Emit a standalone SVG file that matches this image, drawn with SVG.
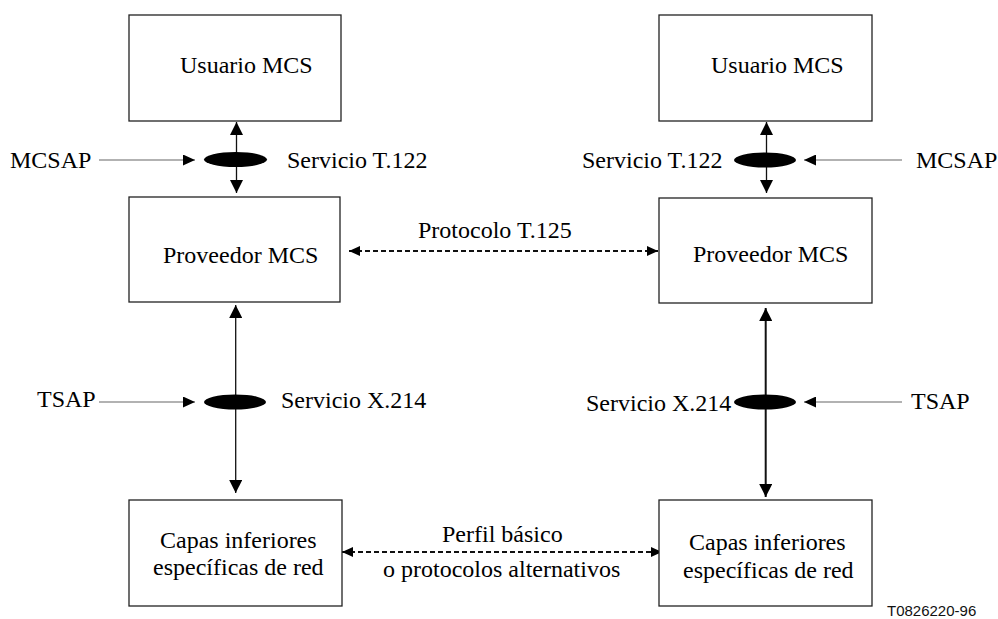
<svg xmlns="http://www.w3.org/2000/svg" width="998" height="619" viewBox="0 0 998 619">
<style>
.box{fill:#fff;stroke:#222;stroke-width:1.3}
.t{font-size:24px;fill:#000}
.id{font-size:15px;fill:#111}
.v{stroke:#111;stroke-width:1.3;fill:none;marker-start:url(#ah);marker-end:url(#ah)}
.sap{stroke:#666;stroke-width:1.2;fill:none;marker-end:url(#sh)}
.dash{stroke:#111;stroke-width:2;stroke-dasharray:5 3;fill:none;marker-start:url(#dh);marker-end:url(#dh)}
.ell{fill:#000}
</style>
<defs>
<marker id="ah" markerUnits="userSpaceOnUse" markerWidth="13" markerHeight="13" refX="13" refY="6.5" orient="auto-start-reverse" viewBox="0 0 13 13">
<path d="M0,0 L13,6.5 L0,13 z" fill="#000"/>
</marker>
<marker id="sh" markerUnits="userSpaceOnUse" markerWidth="12" markerHeight="11" refX="12" refY="5.5" orient="auto" viewBox="0 0 12 11">
<path d="M0,0 L12,5.5 L0,11 z" fill="#000"/>
</marker>
<marker id="dh" markerUnits="userSpaceOnUse" markerWidth="11" markerHeight="10" refX="11" refY="5" orient="auto-start-reverse" viewBox="0 0 11 10">
<path d="M0,0 L11,5 L0,10 z" fill="#000"/>
</marker>
</defs>

<g id="connectors">
<line class="v" x1="236.5" y1="122" x2="236.5" y2="193"/>
<line class="v" x1="766.5" y1="122" x2="766.5" y2="193"/>
<line class="v" x1="235.7" y1="305" x2="235.7" y2="493"/>
<line class="v" x1="765.7" y1="308" x2="765.7" y2="497" style="stroke-width:2"/>
<line class="sap" x1="99" y1="160" x2="195" y2="160"/>
<line class="sap" x1="902" y1="160" x2="804" y2="160"/>
<line class="sap" x1="99" y1="402" x2="195" y2="402"/>
<line class="sap" x1="902" y1="402" x2="804" y2="402"/>
<line class="dash" x1="349" y1="251" x2="658" y2="251"/>
<line class="dash" x1="342" y1="552" x2="662" y2="552"/>
</g>

<g id="saps">
<ellipse class="ell" cx="235.5" cy="159.5" rx="31.5" ry="7.5"/>
<ellipse class="ell" cx="765" cy="160" rx="31" ry="7.5"/>
<ellipse class="ell" cx="235" cy="402" rx="31" ry="7.5"/>
<ellipse class="ell" cx="765" cy="402" rx="31" ry="7.5"/>
</g>

<g font-family="'Liberation Serif', 'Times New Roman', Times, serif">
<g id="usuario-izq">
<rect class="box" x="129" y="15" width="212" height="106"/>
<text class="t" x="180" y="73">Usuario MCS</text>
</g>
<g id="proveedor-izq">
<rect class="box" x="129" y="197" width="211" height="105"/>
<text class="t" x="163" y="263">Proveedor MCS</text>
</g>
<g id="capas-izq">
<rect class="box" x="129" y="500" width="213" height="106"/>
<text class="t" x="160" y="548">Capas inferiores</text>
<text class="t" x="153" y="575">específicas de red</text>
</g>
<g id="usuario-der">
<rect class="box" x="659" y="15" width="213" height="106"/>
<text class="t" x="711" y="73">Usuario MCS</text>
</g>
<g id="proveedor-der">
<rect class="box" x="659" y="198" width="213" height="105"/>
<text class="t" x="693" y="262">Proveedor MCS</text>
</g>
<g id="capas-der">
<rect class="box" x="659" y="500" width="213" height="106"/>
<text class="t" x="689" y="550">Capas inferiores</text>
<text class="t" x="683" y="578">específicas de red</text>
</g>

<g id="labels">
<text class="t" x="10" y="168">MCSAP</text>
<text class="t" x="287" y="168">Servicio T.122</text>
<text class="t" x="582" y="168">Servicio T.122</text>
<text class="t" x="916" y="168">MCSAP</text>
<text class="t" x="418" y="238">Protocolo T.125</text>
<text class="t" x="37" y="407">TSAP</text>
<text class="t" x="281" y="408">Servicio X.214</text>
<text class="t" x="586" y="411">Servicio X.214</text>
<text class="t" x="911" y="409">TSAP</text>
<text class="t" x="442" y="542">Perfil básico</text>
<text class="t" x="383" y="577">o protocolos alternativos</text>
</g>
</g>
<g id="figure-id" font-family="'Liberation Sans', Arial, sans-serif">
<text class="id" x="887" y="616">T0826220-96</text>
</g>
</svg>
